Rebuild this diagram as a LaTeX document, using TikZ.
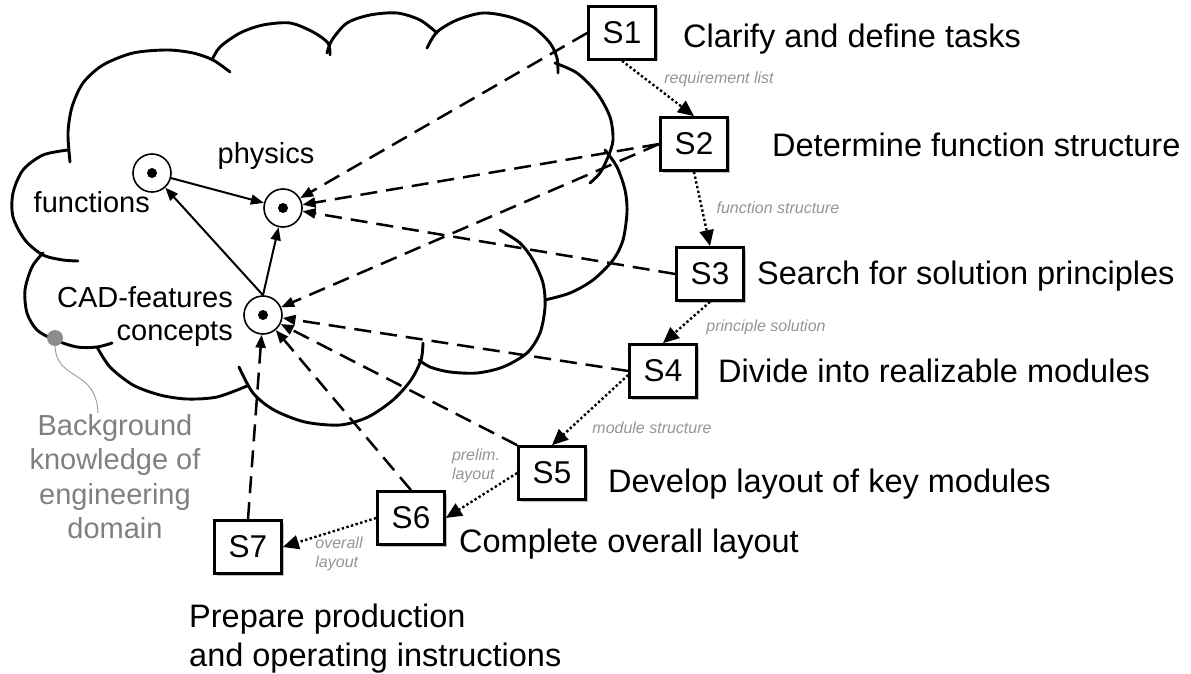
\documentclass[tikz,border=0pt]{standalone}
\usepackage{fontspec}
\setmainfont{Liberation Sans}
\usetikzlibrary{arrows.meta,shadows}
\begin{document}
\begin{tikzpicture}[x=1pt,y=-1pt,
  cloudline/.style={line width=2.9pt, line cap=round},
  stepbox/.style={draw, line width=2.7pt, fill=white, minimum width=67pt, minimum height=53pt,
    inner sep=0pt, font=\fontsize{31.5}{31.5}\selectfont,
    drop shadow={shadow xshift=2pt, shadow yshift=-2pt, fill=black, opacity=0.25}},
  desc/.style={inner sep=0pt, font=\fontsize{32.5}{39}\selectfont},
  inlabel/.style={inner sep=0pt, font=\fontsize{29}{34.5}\selectfont},
  flowlabel/.style={inner sep=0pt, align=left, text=black!42, font=\fontsize{16}{18.5}\selectfont\itshape},
  circ/.style={circle, draw, line width=1.6pt, fill=white, minimum size=38pt, inner sep=0pt},
  cdot/.style={fill=black},
  dasharrow/.style={line width=2.5pt, dash pattern=on 17pt off 9pt, -{Triangle[length=13pt,width=10pt]}},
  dotarrow/.style={line width=2.4pt, dash pattern=on 2.4pt off 2.4pt, -{Triangle[length=16pt,width=14pt]}},
  solarrow/.style={line width=2pt, -{Triangle[length=13pt,width=10pt]}}
]
\useasboundingbox (0,0) rectangle (1191,674);

% cloud
\draw[cloudline] plot[smooth] coordinates {(70,162) (68,133) (72,107) (83,83) (103,65) (133,53) (167,50) (193,53) (213,60) (230,72)};
\draw[cloudline] plot[smooth] coordinates {(212,60) (220,47) (240,33) (263,25) (290,23) (313,32) (328,43) (330,55)};
\draw[cloudline] plot[smooth] coordinates {(327,53) (332,40) (347,23) (370,15) (397,13) (420,20) (437,33)};
\draw[cloudline] plot[smooth] coordinates {(427,48) (437,32) (457,20) (483,13) (510,17) (533,27) (550,43) (557,58) (558,73)};
\draw[cloudline] plot[smooth] coordinates {(555,63) (577,73) (597,93) (610,117) (613,140) (608,157) (600,173) (590,183)};
\draw[cloudline] plot[smooth] coordinates {(605,150) (617,167) (625,190) (627,212) (623,240) (613,260) (593,280) (570,293) (545,300)};
\draw[cloudline] plot[smooth] coordinates {(500,230) (520,243) (533,260) (543,283) (545,307) (540,333) (527,353) (503,367) (477,373) (450,372) (430,367) (419,360)};
\draw[cloudline] plot[smooth] coordinates {(239,367) (253,393) (274,410) (305,422) (340,425) (368,417) (393,400) (411,380) (421,360) (423,343)};
\draw[cloudline] plot[smooth] coordinates {(97,347) (110,367) (133,385) (160,395) (187,399) (217,397) (247,386)};
\draw[cloudline] plot[smooth] coordinates {(43,253) (32,267) (25,290) (27,313) (37,330) (55,340) (77,347) (97,347) (112,343)};
\draw[cloudline] plot[smooth] coordinates {(68,150) (43,155) (23,170) (13,193) (13,217) (25,240) (43,255) (63,260) (78,261)};

% concept nodes
\node[circ] (func) at (152,173) {};
\node[circ] (phys) at (283,208) {};
\node[circ] (cad) at (263,315) {};
\fill[cdot] (func.center) circle (5pt);
\fill[cdot] (phys.center) circle (5pt);
\fill[cdot] (cad.center) circle (5pt);
\node[inlabel, anchor=base] (lphys) at (266,163) {physics};
\node[inlabel, anchor=base east] (lfunc) at (150,212) {functions};
\node[inlabel, anchor=base east] (lcad) at (233,307) {CAD-features};
\node[inlabel, anchor=base east] (lconc) at (233,340) {concepts};

% background knowledge
\node[circle, fill=black!45, minimum size=16pt, inner sep=0pt] (bgdot) at (55,338) {};
\coordinate (bgend) at (98,413);
\draw[black!40, line width=0.9pt] (bgdot.south) .. controls (57,382) and (96,368) .. (bgend);
\node[inlabel, anchor=north, align=center, text=black!50] (bg) at (115,414) {Background\\knowledge of\\engineering\\domain};

% step boxes
\node[stepbox] (S1) at (622,33) {S1};
\node[stepbox] (S2) at (694,144) {S2};
\node[stepbox] (S3) at (710,274) {S3};
\node[stepbox] (S4) at (663,371) {S4};
\node[stepbox] (S5) at (552,473) {S5};
\node[stepbox] (S6) at (411,518) {S6};
\node[stepbox] (S7) at (248,547) {S7};

% descriptions
\node[desc, anchor=base west] (d1) at (683,48) {Clarify and define tasks};
\node[desc, anchor=base west] (d2) at (772,157) {Determine function structure};
\node[desc, anchor=base west] (d3) at (757,284) {Search for solution principles};
\node[desc, anchor=base west] (d4) at (718,382) {Divide into realizable modules};
\node[desc, anchor=base west] (d5) at (608,492) {Develop layout of key modules};
\node[desc, anchor=base west] (d6) at (459,552) {Complete overall layout};
\node[desc, anchor=north west, align=left] (d7) at (189,604) {Prepare production\\and operating instructions};

% flow labels
\node[flowlabel] (l12) at (719,79) {requirement list};
\node[flowlabel] (l23) at (778,208) {function structure};
\node[flowlabel] (l34) at (766,327) {principle solution};
\node[flowlabel] (l45) at (652,428) {module structure};
\node[flowlabel] (l56) at (476,466) {prelim.\\layout};
\node[flowlabel] (l67) at (339,554) {overall\\layout};

% solid arrows
\draw[solarrow] (func) -- (phys);
\draw[solarrow] (cad.north) -- (func);
\draw[solarrow] (cad.north) -- (phys);

% dashed arrows
\draw[dasharrow] (S1.west) -- (phys);
\draw[dasharrow] (S2.west) -- (phys);
\draw[dasharrow] (S2.west) -- (cad);
\draw[dasharrow] (S3.west) -- (phys);
\draw[dasharrow] (S4.west) -- (cad);
\draw[dasharrow] (S5.north west) -- (cad);
\draw[dasharrow] (S6.north) -- (cad);
\draw[dasharrow] (S7.north) -- (cad);

% dotted flow arrows
\draw[dotarrow] (S1.south) -- (S2.north);
\draw[dotarrow] (S2.south) -- (S3.north);
\draw[dotarrow] (S3.south) -- (S4.north);
\draw[dotarrow] ([yshift=-4pt]S4.west) -- (S5.north);
\draw[dotarrow] (S5.west) -- (S6.east);
\draw[dotarrow] (S6.west) -- (S7.east);
\end{tikzpicture}
\end{document}
